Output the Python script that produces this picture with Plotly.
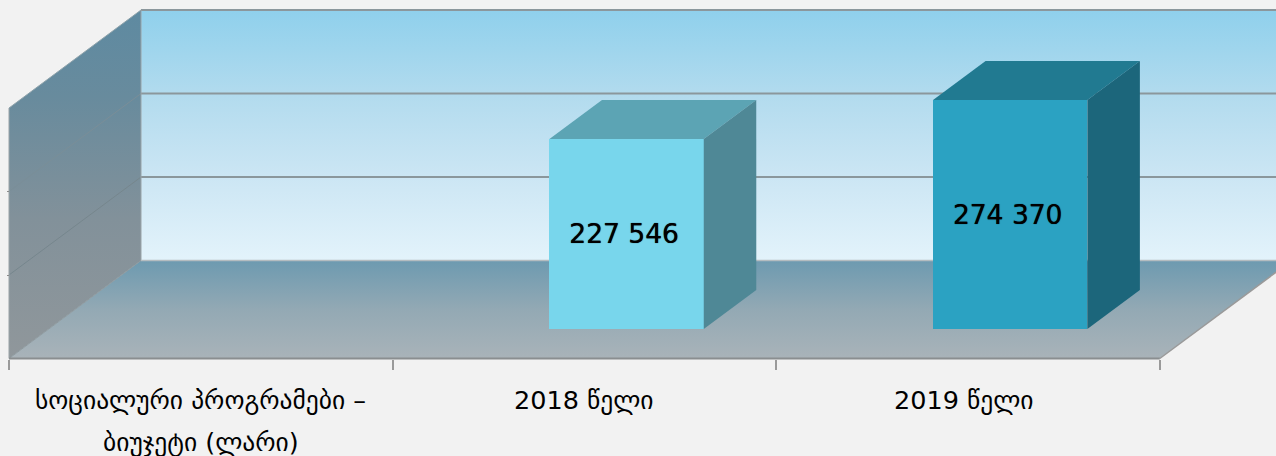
import plotly.graph_objects as go

# ---- data ----
category_lines = [["სოციალური პროგრამები –", "ბიუჯეტი (ლარი)"], ["2018 წელი"], ["2019 წელი"]]
bar_values = [None, 227546, 274370]
value_ticks = [0, 100000, 200000, 300000]
front_colors = [None, "#78D6EC", "#2BA2C2"]
top_colors = [None, "#5CA4B4", "#217A91"]
side_colors = [None, "#4F8896", "#1C667B"]

# ---- geometry of the pseudo-3D box, in axis units ----
W, H = 1276, 456
PX_X = 383.6          # px per category
PX_Y = 83.5 / 100000  # px per value unit
ORIGIN_X, ORIGIN_Y = 9, 358.5
DX, DY = 132 / PX_X, 98 / PX_Y      # total depth of the box
D_FRONT, D_BACK = 0.301, 0.699      # bar depth span as a fraction of the box depth
BAR_W = 154.3 / PX_X
BAR_SHIFT = 0.11
LABEL_SHIFT = 2.5 / PX_X
LABEL_DROP = 2.5 / PX_Y
N = len(category_lines)
TOP = value_ticks[-1]
xrange = [-ORIGIN_X / PX_X, (W - ORIGIN_X) / PX_X]
yrange = [-(H - ORIGIN_Y) / PX_Y, ORIGIN_Y / PX_Y]
GRID = "#8B979C"

fig = go.Figure()


def poly(xs, ys, **kw):
    fig.add_trace(go.Scatter(x=xs, y=ys, mode="lines", showlegend=False, hoverinfo="skip", **kw))


def grad(stops):
    return dict(type="vertical", colorscale=stops)


# back wall
poly([DX, DX + N, DX + N, DX, DX], [DY, DY, DY + TOP, DY + TOP, DY], fill="toself", line=dict(width=0),
     fillgradient=grad([[0, "#E3F3FB"], [0.33, "#CCE6F4"], [0.66, "#B2DBEE"], [1, "#8FD0EC"]]))
# left wall
poly([0, DX, DX, 0, 0], [0, DY, DY + TOP, TOP, 0], fill="toself", line=dict(width=0),
     fillgradient=grad([[0, "#90979B"], [0.4, "#82919A"], [0.75, "#688B9D"], [1, "#5E8AA1"]]))
# floor
poly([0, N, N + DX, DX, 0], [0, 0, DY, DY, 0], fill="toself", line=dict(width=0),
     fillgradient=grad([[0, "#A9B3B9"], [0.5, "#93A9B4"], [1, "#6D9AB0"]]))

# gridlines on walls
wall_colors = {100000: "#76868D", 200000: "#7A8E98", 300000: "#8FA3AB"}
for v in value_ticks[1:]:
    poly([0, DX], [v, v + DY], line=dict(color=wall_colors[v], width=1))
    poly([DX, DX + N], [v + DY, v + DY], line=dict(color=GRID, width=2))
# box edges
poly([0, DX], [0, DY], line=dict(color="#8E9A9F", width=1))
poly([DX, DX], [DY, DY + TOP], line=dict(color="#9AA3A7", width=1))
poly([0, 0], [0, TOP], line=dict(color="#9AA3A7", width=1))
poly([DX, DX + N], [DY, DY], line=dict(color="#B4BCC0", width=1.5))
poly([N, N + DX], [0, DY], line=dict(color="#9A9A9A", width=1.5))
poly([0, N], [0, 0], line=dict(color="#8A8E90", width=2))

# bars: front faces through the bar trace, on an overlaid subplot so they sit above the walls
xc = [i + 0.5 + BAR_SHIFT for i in range(N)]
base = D_FRONT * DY
fig.add_trace(go.Bar(
    x=xc, y=bar_values, base=base, width=BAR_W, xaxis="x2", yaxis="y2",
    marker=dict(color=[c or "rgba(0,0,0,0)" for c in front_colors], line=dict(width=0)),
    showlegend=False, hoverinfo="skip",
))
depth = D_BACK - D_FRONT
for i, v in enumerate(bar_values):
    if v is None:
        continue
    left = xc[i] - BAR_W / 2
    right = xc[i] + BAR_W / 2
    sx, sy = depth * DX, depth * DY
    poly([left, right, right + sx, left + sx, left], [base + v, base + v, base + v + sy, base + v + sy, base + v],
         fill="toself", fillcolor=top_colors[i], line=dict(width=0), xaxis="x2", yaxis="y2")
    poly([right, right + sx, right + sx, right, right], [base, base + sy, base + v + sy, base + v, base],
         fill="toself", fillcolor=side_colors[i], line=dict(width=0), xaxis="x2", yaxis="y2")

# value labels, centred on the front faces
shown = [i for i, v in enumerate(bar_values) if v is not None]
fig.add_trace(go.Scatter(
    x=[xc[i] - LABEL_SHIFT for i in shown], y=[base + bar_values[i] / 2 - LABEL_DROP for i in shown],
    text=[f"{bar_values[i]:,}".replace(",", " ") for i in shown],
    mode="text", textposition="middle center", xaxis="x2", yaxis="y2",
    textfont=dict(family="DejaVu Sans", size=26.5, color="#000000", shadow="0 0 0.8px #000000"),
    showlegend=False, hoverinfo="skip",
))

# category labels
label_nudge = [0, 0, -4]
annotations = []
for i, lines in enumerate(category_lines):
    for j, text in enumerate(lines):
        annotations.append(dict(
            x=i + 0.5, xref="x", y=(H - 400 - 42 * j) / H, yref="paper", text=text, showarrow=False,
            xanchor="center", yanchor="middle", xshift=label_nudge[i],
            font=dict(family="DejaVu Sans", size=25.5, color="#000000"),
        ))

hidden = dict(visible=False, fixedrange=True)
fig.update_layout(
    width=W, height=H, margin=dict(l=0, r=0, t=0, b=0),
    paper_bgcolor="#F2F2F2", plot_bgcolor="rgba(0,0,0,0)",
    bargap=0, annotations=annotations,
    xaxis=dict(range=xrange, domain=[0, 1], anchor="free", position=(H - ORIGIN_Y) / H,
               tickmode="array", tickvals=list(range(N + 1)), ticks="outside", ticklen=10, tickwidth=1.5,
               tickcolor="#9A9A9A", showticklabels=False, showgrid=False, zeroline=False, showline=False,
               fixedrange=True),
    yaxis=dict(range=yrange, domain=[0, 1], anchor="free", position=ORIGIN_X / W,
               tickmode="array", tickvals=value_ticks[1:3], ticks="outside", ticklen=2, tickwidth=1,
               tickcolor="#8A8A8A", showticklabels=False, showgrid=False, zeroline=False, showline=False,
               fixedrange=True),
    xaxis2=dict(range=xrange, overlaying="x", **hidden),
    yaxis2=dict(range=yrange, overlaying="y", **hidden),
)
fig.write_html("out.html", config={"displayModeBar": False},
               post_script="document.body.style.margin='0';document.documentElement.style.overflow='hidden';")
